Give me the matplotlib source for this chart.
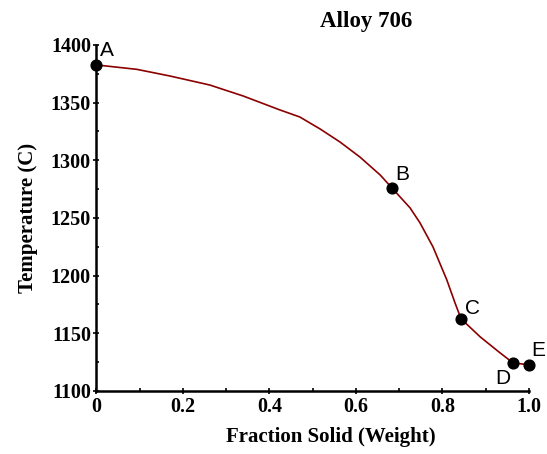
import matplotlib
matplotlib.use("Agg")
import matplotlib.pyplot as plt
from matplotlib.ticker import MultipleLocator, FixedFormatter, FixedLocator

# solidification path
frac_solid = [0.0, 0.093, 0.170, 0.262, 0.339, 0.424, 0.470, 0.517, 0.563, 0.609,
              0.656, 0.683, 0.725, 0.748, 0.778, 0.810, 0.829, 0.843, 0.887, 0.933,
              0.963, 1.0]
temperature = [1382.7, 1378.9, 1373.1, 1365.3, 1355.8, 1343.7, 1337.6, 1327.2, 1315.9, 1302.9,
               1287.3, 1276.1, 1258.8, 1245.8, 1225.0, 1196.4, 1176.4, 1162.6, 1147.0, 1133.1,
               1124.4, 1122.7]

# marked points
point_labels = ["A", "B", "C", "D", "E"]
point_x = [0.0, 0.683, 0.843, 0.963, 1.0]
point_y = [1382.7, 1276.1, 1162.6, 1124.4, 1122.7]

xtick_vals = [0, 0.2, 0.4, 0.6, 0.8, 1.0]
xtick_labels = ["0", "0.2", "0.4", "0.6", "0.8", "1.0"]

serif = "Liberation Serif"
sans = "Liberation Sans"

fig = plt.figure(figsize=(5.47, 4.54), dpi=100)
ax = fig.add_axes([0.1764, 0.1388, 0.7906, 0.7621])

ax.plot(frac_solid, temperature, color="#8b0000", linewidth=1.2, zorder=2)
ax.scatter(point_x, point_y, s=60, color="black", zorder=3, clip_on=False)

# label offsets in pixels
offsets = [(3, 5, "left", "bottom"), (3, 4, "left", "bottom"), (4, 1, "left", "bottom"),
           (-3, -6, "right", "top"), (2, 5, "left", "bottom")]
for lab, x, y, (dx, dy, ha, va) in zip(point_labels, point_x, point_y, offsets):
    ax.annotate(lab, (x, y), xytext=(dx, dy), textcoords="offset pixels",
                ha=ha, va=va, fontsize=15, family=sans)

ax.set_xlim(0, 1.0)
ax.set_ylim(1100, 1400)

ax.xaxis.set_major_locator(FixedLocator(xtick_vals))
ax.xaxis.set_major_formatter(FixedFormatter(xtick_labels))
ax.xaxis.set_minor_locator(MultipleLocator(0.1))
ax.yaxis.set_major_locator(MultipleLocator(50))
ax.yaxis.set_minor_locator(MultipleLocator(25))

for s in ["top", "right"]:
    ax.spines[s].set_visible(False)
for s in ["left", "bottom"]:
    ax.spines[s].set_linewidth(1.8)

ax.tick_params(which="major", direction="inout", length=4, width=1.2, pad=2)
ax.tick_params(which="minor", direction="in", length=2, width=1.2)

for lbl in ax.get_xticklabels() + ax.get_yticklabels():
    lbl.set_family(serif)
    lbl.set_fontweight("bold")
    lbl.set_fontsize(14.5)

fig.text(366 / 547, 1 - 21 / 454, "Alloy 706", ha="center", va="center",
         family=serif, fontweight="bold", fontsize=16.5)
fig.text(331 / 547, 1 - 437 / 454, "Fraction Solid (Weight)", ha="center", va="center",
         family=serif, fontweight="bold", fontsize=15)
fig.text(28 / 547, 1 - 218 / 454, "Temperature (C)", ha="center", va="center",
         rotation=90, family=serif, fontweight="bold", fontsize=15)

fig.savefig("out.png", dpi=100)
